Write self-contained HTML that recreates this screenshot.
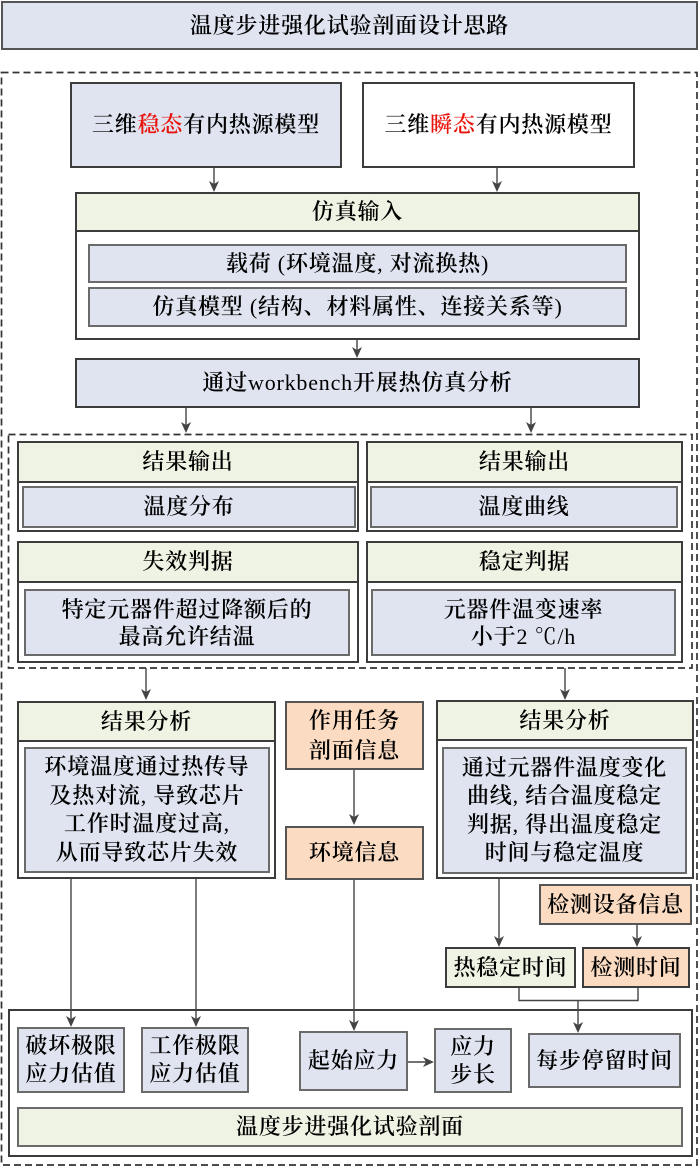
<!DOCTYPE html>
<html><head><meta charset="utf-8">
<style>
html,body{margin:0;padding:0;background:#fff;}
body{width:700px;height:1167px;position:relative;overflow:hidden;font-family:"Liberation Serif","Noto Serif CJK SC",serif;}
.b{position:absolute;box-sizing:border-box;display:flex;align-items:center;justify-content:center;text-align:center;font-size:22px;line-height:28px;letter-spacing:0.8px;color:#000;font-weight:600;}
.b span.n{font-weight:400;}
.blue{background:#dfe4f0;}
.green{background:#eff3e3;}
.orange{background:#fbdcc2;}
.white{background:#fff;}
.o{border:2px solid #3c3c3c;}
.i{border:2px solid #6a6a6a;}
.r{color:#e8140c;}
svg{position:absolute;left:0;top:0;}
</style></head><body>

<div class="b blue" style="left:1px;top:1px;width:697px;height:49px;border:2px solid #555;">温度步进强化试验剖面设计思路</div>

<div class="b blue o" style="left:70px;top:82px;width:272px;height:86px;">三维<span class="r">稳态</span>有内热源模型</div>
<div class="b white o" style="left:362px;top:82px;width:273px;height:86px;">三维<span class="r">瞬态</span>有内热源模型</div>

<div class="b white o" style="left:75px;top:192px;width:565px;height:148px;"></div>
<div class="b green o" style="left:75px;top:192px;width:565px;height:40px;">仿真输入</div>
<div class="b blue i" style="left:88px;top:244px;width:539px;height:39px;"><span>载荷<span class="n">&nbsp;(</span>环境温度<span class="n">, </span>对流换热<span class="n">)</span></span></div>
<div class="b blue i" style="left:88px;top:287px;width:539px;height:40px;"><span>仿真模型<span class="n">&nbsp;(</span>结构、材料属性、连接关系等<span class="n">)</span></span></div>

<div class="b blue o" style="left:75px;top:358px;width:565px;height:50px;"><span>通过<span class="n">workbench</span>开展热仿真分析</span></div>

<div class="b white o" style="left:17px;top:441px;width:342px;height:91px;"></div>
<div class="b green o" style="left:17px;top:441px;width:342px;height:42px;">结果输出</div>
<div class="b blue i" style="left:22px;top:486px;width:334px;height:42px;">温度分布</div>

<div class="b white o" style="left:366px;top:441px;width:317px;height:91px;"></div>
<div class="b green o" style="left:366px;top:441px;width:317px;height:42px;">结果输出</div>
<div class="b blue i" style="left:370px;top:486px;width:308px;height:42px;">温度曲线</div>

<div class="b white o" style="left:17px;top:541px;width:342px;height:122px;"></div>
<div class="b green o" style="left:17px;top:541px;width:342px;height:42px;">失效判据</div>
<div class="b blue i" style="left:24px;top:589px;width:326px;height:67px;line-height:27px;"><span>特定元器件超过降额后的<br>最高允许结温</span></div>

<div class="b white o" style="left:366px;top:541px;width:317px;height:122px;"></div>
<div class="b green o" style="left:366px;top:541px;width:317px;height:42px;">稳定判据</div>
<div class="b blue i" style="left:371px;top:589px;width:305px;height:67px;line-height:27px;"><span>元器件温变速率<br>小于<span class="n">2 ℃/h</span></span></div>

<div class="b white o" style="left:17px;top:701px;width:259px;height:178px;"></div>
<div class="b green o" style="left:17px;top:701px;width:259px;height:41px;">结果分析</div>
<div class="b blue i" style="left:24px;top:747px;width:246px;height:126px;line-height:28.5px;"><span>环境温度通过热传导<br>及热对流<span class="n">, </span>导致芯片<br>工作时温度过高<span class="n">,</span><br>从而导致芯片失效</span></div>

<div class="b orange" style="left:285px;top:701px;width:139px;height:69px;border:2px solid #555;line-height:30px;"><span>作用任务<br>剖面信息</span></div>
<div class="b orange" style="left:285px;top:826px;width:139px;height:54px;border:2px solid #555;">环境信息</div>

<div class="b white o" style="left:436px;top:700px;width:258px;height:179px;"></div>
<div class="b green o" style="left:436px;top:700px;width:258px;height:41px;">结果分析</div>
<div class="b blue i" style="left:442px;top:747px;width:245px;height:127px;line-height:28.5px;"><span>通过元器件温度变化<br>曲线<span class="n">, </span>结合温度稳定<br>判据<span class="n">, </span>得出温度稳定<br>时间与稳定温度</span></div>

<div class="b orange" style="left:539px;top:884px;width:153px;height:41px;border:2px solid #555;">检测设备信息</div>
<div class="b green o" style="left:445px;top:947px;width:131px;height:41px;">热稳定时间</div>
<div class="b orange o" style="left:582px;top:947px;width:108px;height:41px;">检测时间</div>

<div class="b white o" style="left:8px;top:1009px;width:685px;height:148px;"></div>
<div class="b blue i" style="left:17px;top:1027px;width:108px;height:66px;"><span>破坏极限<br>应力估值</span></div>
<div class="b blue i" style="left:141px;top:1027px;width:108px;height:66px;"><span>工作极限<br>应力估值</span></div>
<div class="b blue i" style="left:299px;top:1031px;width:109px;height:60px;">起始应力</div>
<div class="b blue i" style="left:434px;top:1028px;width:78px;height:65px;"><span>应力<br>步长</span></div>
<div class="b blue i" style="left:528px;top:1033px;width:153px;height:55px;">每步停留时间</div>
<div class="b green i" style="left:17px;top:1107px;width:666px;height:40px;">温度步进强化试验剖面</div>

<svg width="700" height="1167" viewBox="0 0 700 1167">
  <g fill="none" stroke="#333" stroke-width="1.7" stroke-dasharray="7 4">
    <rect x="1.5" y="72.5" width="695.5" height="1092.5"/>
    <rect x="8.5" y="434.5" width="683.5" height="233.5"/>
  </g>
  <g fill="none" stroke="#444" stroke-width="1.4">
    <line x1="214" y1="168" x2="214" y2="185"/>
    <line x1="497" y1="168" x2="497" y2="185"/>
    <line x1="357" y1="340" x2="357" y2="351"/>
    <line x1="186" y1="408" x2="186" y2="426"/>
    <line x1="531" y1="408" x2="531" y2="426"/>
    <line x1="146" y1="668" x2="146" y2="693"/>
    <line x1="565" y1="668" x2="565" y2="693"/>
    <line x1="354" y1="770" x2="354" y2="818"/>
    <line x1="71" y1="879" x2="71" y2="1020"/>
    <line x1="196" y1="879" x2="196" y2="1020"/>
    <line x1="354" y1="880" x2="354" y2="1024"/>
    <line x1="499" y1="879" x2="499" y2="940"/>
    <line x1="637" y1="925" x2="637" y2="940"/>
    <polyline points="519,988 519,1000.5 638,1000.5 638,988"/>
    <line x1="578" y1="1000" x2="578" y2="1026"/>
    <line x1="408" y1="1062" x2="426" y2="1062"/>
  </g>
  <g fill="#444">
    <path d="M214,192 l-5,-11 l5,3 l5,-3 z"/>
    <path d="M497,192 l-5,-11 l5,3 l5,-3 z"/>
    <path d="M357,358 l-5,-11 l5,3 l5,-3 z"/>
    <path d="M186,433 l-5,-11 l5,3 l5,-3 z"/>
    <path d="M531,433 l-5,-11 l5,3 l5,-3 z"/>
    <path d="M146,700 l-5,-11 l5,3 l5,-3 z"/>
    <path d="M565,700 l-5,-11 l5,3 l5,-3 z"/>
    <path d="M354,825 l-5,-11 l5,3 l5,-3 z"/>
    <path d="M71,1027 l-5,-11 l5,3 l5,-3 z"/>
    <path d="M196,1027 l-5,-11 l5,3 l5,-3 z"/>
    <path d="M354,1031 l-5,-11 l5,3 l5,-3 z"/>
    <path d="M499,947 l-5,-11 l5,3 l5,-3 z"/>
    <path d="M637,947 l-5,-11 l5,3 l5,-3 z"/>
    <path d="M578,1033 l-5,-11 l5,3 l5,-3 z"/>
    <path d="M434,1062 l-11,-5 l3,5 l-3,5 z"/>
  </g>
</svg>
</body></html>
